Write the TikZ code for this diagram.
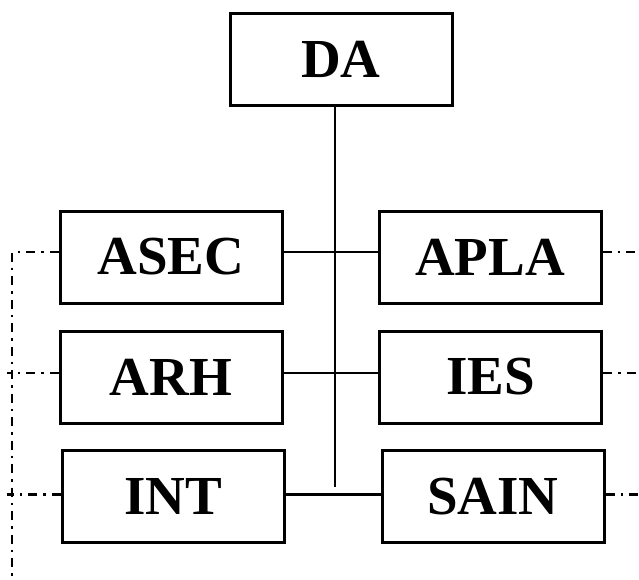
\documentclass[tikz,border=0pt]{standalone}
\usepackage{fontspec}
\setmainfont{Liberation Serif}
\begin{document}
\begin{tikzpicture}[x=1pt,y=-1pt,
  unitbox/.style={draw,line width=3pt,minimum width=222pt,minimum height=92pt,inner sep=0pt,font=\fontsize{55}{55}\selectfont\bfseries},
  link/.style={line width=2.4pt},
  dotlink/.style={line width=2.4pt,dash pattern=on 9pt off 6pt on 2.5pt off 6pt}]
\useasboundingbox (0,0) rectangle (639,579);
\node[unitbox] (da) at (341,59) {DA};
\node[unitbox] (asec) at (171,257) {\raisebox{-1.5pt}{ASEC}};
\node[unitbox] (apla) at (490,257) {\raisebox{-1.5pt}{APLA}};
\node[unitbox] (arh) at (171,377) {ARH};
\node[unitbox] (ies) at (490.5,377) {IES};
\node[unitbox] (int) at (173,496.5) {INT};
\node[unitbox] (sain) at (493,496.5) {SAIN};
\coordinate (trunk) at (335,487);
\draw[link] (da.south -| trunk) -- (trunk);
\draw[link] ([yshift=5pt]asec.east) -- ([yshift=5pt]apla.west);
\draw[link] ([yshift=4pt]arh.east) -- ([yshift=4pt]ies.west);
\draw[link] ([yshift=2pt]int.east) -- ([yshift=2pt]sain.west);
\coordinate (lc) at (12,252);
\coordinate (lb) at (12,579);
\coordinate (l2) at (7,373);
\coordinate (l3) at (7,494.5);
\coordinate (r1) at (639,252);
\coordinate (r2) at (639,373);
\coordinate (r3) at (639,494.5);
\draw[dotlink] ([yshift=5pt]asec.west) -- (lc) -- (lb);
\draw[dotlink] ([yshift=4pt]arh.west) -- (l2);
\draw[dotlink] ([yshift=2pt]int.west) -- (l3);
\draw[dotlink] ([yshift=5pt]apla.east) -- (r1);
\draw[dotlink] ([yshift=4pt]ies.east) -- (r2);
\draw[dotlink] ([yshift=2pt]sain.east) -- (r3);
\end{tikzpicture}
\end{document}
